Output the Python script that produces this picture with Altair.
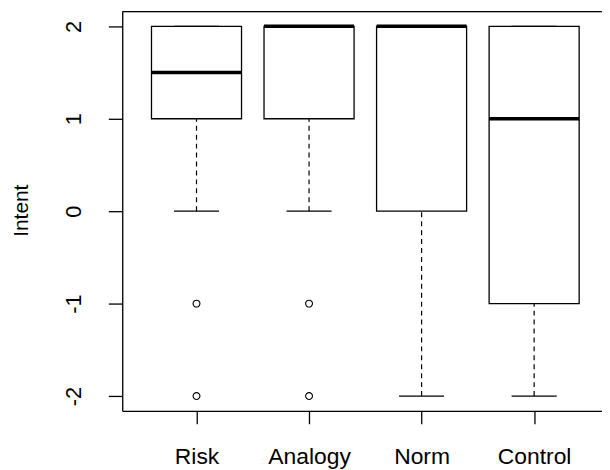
import altair as alt
import pandas as pd

# ---- data ----
groups = ["Risk", "Analogy", "Norm", "Control"]
positions = [1, 2, 3, 4]
q1 = [1, 1, 0, -1]
medians = [1.5, 2, 2, 1]
q3 = [2, 2, 2, 2]
whisker_lo = [0, 0, -2, -2]
whisker_hi = [2, 2, 2, 2]
outlier_pos = [1, 1, 2, 2]
outlier_values = [-1, -2, -1, -2]
y_ticks = [-2, -1, 0, 1, 2]

# ---- layout constants ----
Y_DOMAIN = [-2.16, 2.16]
X_MIN = 0.34
PX_PER_UNIT = 113.3
WIDTH = 483
HEIGHT = 402
X_DOMAIN = [X_MIN, X_MIN + WIDTH / PX_PER_UNIT]
BOX_HALF = 0.4
CAP_HALF = 0.2
FONT = "Liberation Sans"
LINE = "#000000"

box_df = pd.DataFrame({
    "group": groups, "pos": positions, "q1": q1, "median": medians,
    "q3": q3, "lo": whisker_lo, "hi": whisker_hi,
})
box_df["left"] = box_df["pos"] - BOX_HALF
box_df["right"] = box_df["pos"] + BOX_HALF
box_df["capl"] = box_df["pos"] - CAP_HALF
box_df["capr"] = box_df["pos"] + CAP_HALF

out_df = pd.DataFrame({"pos": outlier_pos, "value": outlier_values})

label_expr = " : ".join(
    f"datum.value == {p} ? '{g}'" for p, g in zip(positions, groups)
) + " : ''"

xscale = alt.Scale(domain=X_DOMAIN, nice=False, zero=False)
yscale = alt.Scale(domain=Y_DOMAIN, nice=False, zero=False)

xaxis = alt.Axis(
    values=positions, labelExpr=label_expr, title=None, grid=False,
    tickSize=13, tickWidth=1.3, tickColor=LINE, domainColor=LINE, domainWidth=1.3,
    labelFont=FONT, labelFontSize=23, labelColor="#000", labelPadding=22,
    labelAngle=0, labelAlign="center",
)
yaxis = alt.Axis(
    values=y_ticks, labelExpr="datum.value + ''", title="Intent", grid=False,
    tickSize=14, tickWidth=1.3, tickColor=LINE, domainColor=LINE, domainWidth=1.3,
    labelFont=FONT, labelFontSize=22, labelColor="#000", labelPadding=23,
    labelAngle=270, labelAlign="center", labelBaseline="bottom",
    titleFont=FONT, titleFontSize=21, titleFontWeight="normal", titleColor="#000",
    titleAngle=270, titleAlign="center", titleBaseline="middle",
    titleX=-101, titleY=200,
)


def X(field):
    return alt.X(field, type="quantitative", scale=xscale, axis=xaxis)


def Y(field):
    return alt.Y(field, type="quantitative", scale=yscale, axis=yaxis)


base = alt.Chart(box_df)

whisk_low = base.mark_rule(color=LINE, strokeWidth=1.2, strokeDash=[5, 4]).encode(
    x=X("pos"), y=Y("lo"), y2="q1")
whisk_high = base.mark_rule(color=LINE, strokeWidth=1.2, strokeDash=[5, 4]).encode(
    x=X("pos"), y=Y("q3"), y2="hi")
cap_low = base.mark_rule(color=LINE, strokeWidth=1.3).encode(
    x=X("capl"), x2="capr", y=Y("lo"))
cap_high = base.mark_rule(color=LINE, strokeWidth=1.3).encode(
    x=X("capl"), x2="capr", y=Y("hi"))
boxes = base.mark_rect(fill="white", stroke=LINE, strokeWidth=1.3).encode(
    x=X("left"), x2="right", y=Y("q1"), y2="q3")
med = base.mark_rule(color=LINE, strokeWidth=3.6).encode(
    x=X("left"), x2="right", y=Y("median"))
outliers = alt.Chart(out_df).mark_point(
    shape="circle", filled=False, color=LINE, strokeWidth=1.1, size=48, opacity=1
).encode(x=X("pos"), y=Y("value"))

top_frame = alt.Chart(pd.DataFrame({"a": [0]})).mark_rule(
    color=LINE, strokeWidth=1.3
).encode(
    x=alt.X(datum=X_DOMAIN[0], type="quantitative", scale=xscale, axis=xaxis),
    x2=alt.X2(datum=X_DOMAIN[1]),
    y=alt.Y(datum=Y_DOMAIN[1], type="quantitative", scale=yscale, axis=yaxis),
)

chart = alt.layer(
    whisk_low, whisk_high, cap_low, cap_high, boxes, med, outliers, top_frame
).properties(
    width=WIDTH, height=HEIGHT,
    autosize=alt.AutoSizeParams(type="none"),
    padding={"left": 115, "top": 2, "right": 0, "bottom": 58},
).configure_view(stroke=None).configure(background="white")

chart.save("out.html", embed_options={"renderer": "svg", "actions": False})
